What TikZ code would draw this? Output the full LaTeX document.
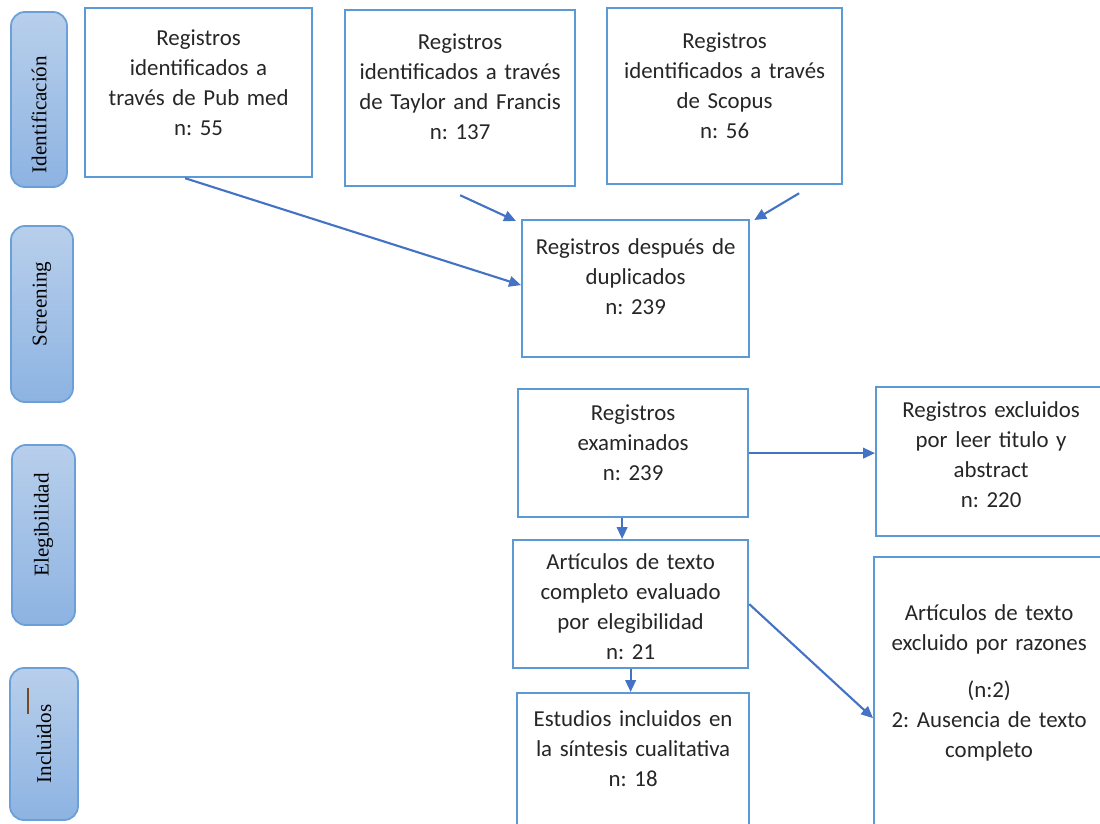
\documentclass[tikz,border=0pt]{standalone}
\usepackage{graphicx}
\usepackage{fontspec}
\setmainfont{Carlito}
\newfontfamily\phasefont{Liberation Serif}
\usetikzlibrary{arrows.meta}
\frenchspacing

\definecolor{boxblue}{HTML}{5B9BD5}
\definecolor{arrowblue}{HTML}{4472C4}
\definecolor{phasetop}{HTML}{B8CFEB}
\definecolor{phasebottom}{HTML}{8DB3E2}
\definecolor{phaseline}{HTML}{6A9FD8}
\definecolor{textgray}{HTML}{262626}
\newcommand\boxtextstyle{\fontsize{6.5}{8.54}\selectfont}
\newcommand\phasetextstyle{\phasefont\fontsize{6}{7}\selectfont}
\tikzset{
  prismabox/.style={draw=boxblue, line width=.6pt, anchor=north west, inner sep=0pt,
    align=center, text=textgray, font=\boxtextstyle},
  phasebox/.style={draw=phaseline, line width=.5pt, rounded corners=4pt,
    top color=phasetop, bottom color=phasebottom, text=black, font=\phasetextstyle, inner sep=0pt},
  arr/.style={draw=arrowblue, line width=.6pt, -{Triangle[length=3.4pt, width=3pt]}},
}

\begin{document}
\begin{tikzpicture}[x=0.01cm, y=-0.01cm]
  \path[use as bounding box, clip] (0,0) rectangle (1100,823);
  % phases
  \node[phasebox, minimum width=0.56cm, minimum height=1.75cm] (ident) at (39,99.5) {\rotatebox{90}{Identificación\hspace*{0.3cm}}};
  \node[phasebox, minimum width=0.62cm, minimum height=1.76cm] (screen) at (42,314) {\rotatebox{90}{\hspace*{0.2cm}Screening}};
  \node[phasebox, minimum width=0.63cm, minimum height=1.80cm] (elig) at (43.5,535) {\rotatebox{90}{\hspace*{0.2cm}Elegibilidad}};
  \node[phasebox, minimum width=0.68cm, minimum height=1.52cm] (incl) at (44,744) {\rotatebox{90}{Incluidos}};
  \draw[draw=brown!60!black, line width=.6pt] (28,688) -- (28,714);
  % identification
  \node[prismabox, text width=2.27cm, text height=0.37cm, text depth=1.32cm] (pubmed) at (84,7)
    {Registros\\identificados a\\través de Pub med\\n: 55};
  \node[prismabox, text width=2.30cm, text height=0.39cm, text depth=1.37cm] (taylor) at (344,9)
    {Registros\\identificados a través\\de Taylor and Francis\\n: 137};
  \node[prismabox, text width=2.35cm, text height=0.40cm, text depth=1.36cm] (scopus) at (606,7)
    {Registros\\identificados a través\\de Scopus\\n: 56};
  % screening
  \node[prismabox, text width=2.27cm, text height=0.34cm, text depth=1.03cm] (dup) at (521,219)
    {Registros después de\\duplicados\\n: 239};
  \node[prismabox, text width=2.30cm, text height=0.31cm, text depth=0.97cm] (exam) at (517,388)
    {Registros\\examinados\\n: 239};
  \node[prismabox, text width=2.30cm, text height=0.30cm, text depth=1.19cm] (exclone) at (875,386)
    {Registros excluidos\\por leer titulo y\\abstract\\n: 220};
  % eligibility
  \node[prismabox, text width=2.35cm, text height=0.29cm, text depth=0.99cm] (art) at (512,539)
    {Artículos de texto\\completo evaluado\\por elegibilidad\\n: 21};
  \node[prismabox, text width=2.30cm, text height=0.63cm, text depth=2.31cm] (excltwo) at (873,556)
    {Artículos de texto\\excluido por razones\\[0.17cm](n:2)\\2: Ausencia de texto\\completo};
  % included
  \node[prismabox, text width=2.32cm, text height=0.33cm, text depth=1.25cm] (est) at (516,692)
    {Estudios incluidos en\\la síntesis cualitativa\\n: 18};
  % arrows
  \draw[arr] ([xshift=-0.135cm]pubmed.south) -- ([yshift=0.035cm]dup.west);
  \draw[arr] ([yshift=-0.08cm]taylor.south) -- ([shift={(-0.05cm,-0.02cm)}]dup.north west);
  \draw[arr] ([shift={(0.745cm,-0.08cm)}]scopus.south) -- ([shift={(0.04cm,-0.01cm)}]dup.north east);
  \draw[arr] (exam.east) -- (exam.east -| exclone.west);
  \draw[arr] ([xshift=-0.11cm]exam.south) -- ([xshift=-0.11cm]exam.south |- art.north);
  \draw[arr] (art.south) -- (art.south |- est.north);
  \draw[arr] (art.east) -- ([yshift=-0.14cm]excltwo.west);
\end{tikzpicture}
\end{document}
